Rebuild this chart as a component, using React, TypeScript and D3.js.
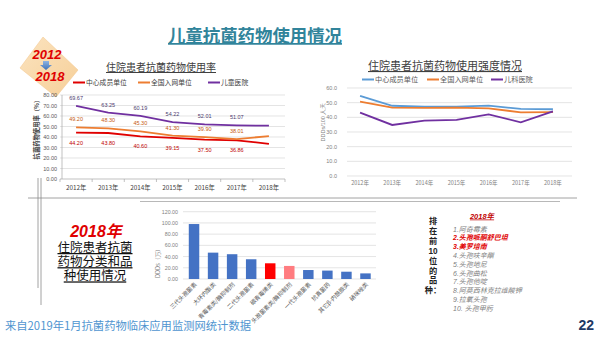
import React from "react";
import * as d3 from "d3";

const CJK = '"Noto Sans CJK SC", "Noto Sans", sans-serif';
const TIGHT = '"Liberation Sans", "Noto Sans CJK SC", sans-serif';
const LAT = '"Liberation Sans", Arial, sans-serif';

// Chart 1: 住院患者抗菌药物使用率
const years = ["2012年", "2013年", "2014年", "2015年", "2016年", "2017年", "2018年"];
const rateCenter = [44.2, 43.8, 40.6, 39.15, 37.5, 36.86, 33.5];
const rateNational = [49.2, 48.3, 45.3, 41.3, 39.9, 38.01, 40.8];
const rateChildren = [69.67, 63.25, 60.19, 54.22, 52.01, 51.07, 50.8];
const rateLabelled = [true, true, true, true, true, true, false];
const rateTicks = [0, 10, 20, 30, 40, 50, 60, 70, 80];
const rateSeriesNames = ["中心成员单位", "全国入网单位", "儿童医院"];

// Chart 2: 住院患者抗菌药物使用强度情况
const intensityCenter = [54.7, 47.9, 47.3, 47.3, 48.0, 45.7, 45.5];
const intensityNational = [50.7, 46.6, 46.5, 46.6, 46.1, 43.4, 43.5];
const intensityChildren = [43.2, 34.8, 37.7, 38.2, 42.0, 36.6, 44.1];
const intensityTicks = [0, 10, 20, 30, 40, 50, 60];
const intensitySeriesNames = ["中心成员单位", "全国入网单位", "儿科医院"];

// Chart 3: 2018 classes
const classes = [
  "三代头孢菌素",
  "大环内酯类",
  "青霉素类/酶抑制剂",
  "二代头孢菌素",
  "碳青霉烯类",
  "头孢菌素类/酶抑制剂",
  "一代头孢菌素",
  "抗真菌药",
  "其它β-内酰胺类",
  "硝咪唑类",
];
const classValues = [98, 47, 44.2, 35.2, 28, 23.3, 16, 15, 13, 10];
const classTicks = [0, 20, 40, 60, 80, 100, 120];

const topDrugs = [
  "1.阿奇霉素",
  "2.头孢哌酮舒巴坦",
  "3.美罗培南",
  "4.头孢呋辛酯",
  "5.头孢地尼",
  "6.头孢曲松",
  "7.头孢他啶",
  "8.阿莫西林克拉维酸钾",
  "9.拉氧头孢",
  "10. 头孢甲肟",
];
const topDrugsHighlighted = [false, true, true, false, false, false, false, false, false, false];
const verticalChars = ["排", "在", "前", "10", "位", "的", "品", "种："];
const leftBlockLines = ["住院患者抗菌", "药物分类和品", "种使用情况"];

export default function App() {
  // chart 1 scales
  const x1 = d3.scaleBand<string>().domain(years).range([60, 285]);
  const y1 = d3.scaleLinear().domain([0, 80]).range([179, 95]);
  const cx1 = (d: string) => (x1(d) as number) + x1.bandwidth() / 2;
  const line1 = (vals: number[]) =>
    d3.line<number>().x((_, i) => cx1(years[i])).y((v) => y1(v))(vals) as string;

  // chart 2 scales
  const x2 = d3.scaleBand<string>().domain(years).range([344, 569]);
  const y2 = d3.scaleLinear().domain([0, 60]).range([176, 88]);
  const cx2 = (d: string) => (x2(d) as number) + x2.bandwidth() / 2;
  const line2 = (vals: number[]) =>
    d3.line<number>().x((_, i) => cx2(years[i])).y((v) => y2(v))(vals) as string;

  // chart 3 scales
  const x3 = d3
    .scaleBand<string>()
    .domain(classes)
    .range([184.5, 375])
    .paddingInner(0.45)
    .paddingOuter(0.225);
  const y3 = d3.scaleLinear().domain([0, 120]).range([279, 211.7]);

  const c1Colors = ["#e00000", "#ed7d31", "#7030a0"];
  const c1LabelColors = ["#c00000", "#c55a11", "#4b3a6e"];
  const c2Colors = ["#5b9bd5", "#ed7d31", "#7030a0"];
  const barColors = classes.map((_, i) => (i === 4 ? "#ff0000" : i === 5 ? "#ff7c80" : "#4472c4"));

  const rateSeries = [rateCenter, rateNational, rateChildren];
  const intSeries = [intensityCenter, intensityNational, intensityChildren];

  const fmt2 = d3.format(".2f");
  const fmt1 = d3.format(".1f");

  return (
    <svg
      width={600}
      height={337}
      style={{ position: "absolute", left: 0, top: 0, background: "#fff" }}
    >
      <defs>
        <linearGradient id="diam" x1="0" y1="0" x2="1" y2="1">
          <stop offset="0" stopColor="#fbe3bf" />
          <stop offset="1" stopColor="#f6cf98" />
        </linearGradient>
        <linearGradient id="arr" x1="0" y1="0" x2="0" y2="1">
          <stop offset="0" stopColor="#8db3e2" />
          <stop offset="1" stopColor="#3e72b8" />
        </linearGradient>
      </defs>
      <rect x={0} y={0} width={600} height={337} fill="#fff" />

      {/* Main title */}
      <text
        x={255}
        y={42}
        textAnchor="middle"
        fontFamily={CJK}
        fontWeight={700}
        fontSize={17.4}
        fill="#31849b"
        textDecoration="underline"
      >
        儿童抗菌药物使用情况
      </text>

      {/* Diamond badge */}
      <polygon points="43,37 78,70 56,97 20,68" fill="url(#diam)" stroke="#f2c58a" strokeWidth={0.5} />
      <text x={47} y={59} textAnchor="middle" fontFamily={LAT} fontStyle="italic" fontWeight={700} fontSize={13} fill="#e00000">
        2012
      </text>
      <path d="M43,61 L49,61 L49,65 L52,65 L46,70 L40,65 L43,65 Z" fill="url(#arr)" />
      <text x={50} y={81} textAnchor="middle" fontFamily={LAT} fontStyle="italic" fontWeight={700} fontSize={13} fill="#e00000">
        2018
      </text>

      {/* Chart 1 */}
      <text x={161} y={71} textAnchor="middle" fontFamily={CJK} fontSize={10} fill="#404040" textDecoration="underline">
        住院患者抗菌药物使用率
      </text>
      {rateSeriesNames.map((n, i) => {
        const lx = [73, 138, 208][i];
        return (
          <g key={n}>
            <line x1={lx} x2={lx + 12} y1={82.5} y2={82.5} stroke={c1Colors[i]} strokeWidth={2} />
            <text x={lx + 13} y={85} fontFamily={CJK} fontSize={6.8} fill="#404040">
              {n}
            </text>
          </g>
        );
      })}
      {rateTicks.map((t) => (
        <g key={t}>
          <line x1={60} x2={285} y1={y1(t)} y2={y1(t)} stroke={t === 0 ? "#a6a6a6" : "#d9d9d9"} strokeWidth={0.7} />
          <text x={57} y={y1(t) + 2} textAnchor="end" fontFamily={LAT} fontSize={5.5} fill="#595959">
            {fmt2(t)}
          </text>
        </g>
      ))}
      <line x1={62} x2={62} y1={95} y2={179} stroke="#a6a6a6" strokeWidth={0.7} />
      {years.map((y, i) => (
        <g key={y}>
          <line x1={x1(y) as number} x2={x1(y) as number} y1={179} y2={182} stroke="#a6a6a6" strokeWidth={0.7} />
          {i === years.length - 1 && (
            <line x1={285} x2={285} y1={179} y2={182} stroke="#a6a6a6" strokeWidth={0.7} />
          )}
          <text x={cx1(y)} y={190} textAnchor="middle" fontFamily={CJK} fontSize={6.3} fill="#404040">
            {y}
          </text>
        </g>
      ))}
      <text
        transform={`translate(39,128) rotate(-90)`}
        textAnchor="middle"
        fontFamily={CJK}
        fontWeight={700}
        fontSize={6.3}
        fill="#404040"
      >
        抗菌药物使用率（%）
      </text>
      {rateSeries.map((s, si) => (
        <path key={si} d={line1(s)} fill="none" stroke={c1Colors[si]} strokeWidth={1.8} />
      ))}
      {rateSeries.map((s, si) =>
        s.map((v, i) =>
          rateLabelled[i] ? (
            <text
              key={`${si}-${i}`}
              x={cx1(years[i])}
              y={si === 0 ? y1(v) + 12 : y1(v) - 6}
              textAnchor="middle"
              fontFamily={LAT}
              fontSize={5.5}
              fill={c1LabelColors[si]}
            >
              {fmt2(v)}
            </text>
          ) : null
        )
      )}

      {/* Chart 2 */}
      <text x={445} y={70} textAnchor="middle" fontFamily={CJK} fontSize={11} fill="#404040" textDecoration="underline">
        住院患者抗菌药物使用强度情况
      </text>
      {intensitySeriesNames.map((n, i) => {
        const lx = [362, 427, 491][i];
        return (
          <g key={n}>
            <line x1={lx} x2={lx + 12} y1={79.5} y2={79.5} stroke={c2Colors[i]} strokeWidth={2} />
            <text x={lx + 13} y={82} fontFamily={CJK} fontSize={7.2} fill="#595959">
              {n}
            </text>
          </g>
        );
      })}
      {intensityTicks.map((t) => (
        <g key={t}>
          <line x1={347} x2={572} y1={y2(t)} y2={y2(t)} stroke="#d9d9d9" strokeWidth={0.7} />
          <text x={337} y={y2(t) + 2} textAnchor="end" fontFamily={LAT} fontSize={5.5} fill="#7f7f7f">
            {fmt1(t)}
          </text>
        </g>
      ))}
      {years.map((y) => (
        <text key={y} x={cx2(y)} y={185} textAnchor="middle" fontFamily={CJK} fontSize={5.5} fill="#7f7f7f">
          {y}
        </text>
      ))}
      <text
        transform={`translate(325,122) rotate(-90)`}
        textAnchor="middle"
        fontFamily={LAT}
        fontSize={5.5}
        fill="#7f7f7f"
      >
        DDDs/100 人天
      </text>
      {intSeries.map((s, si) => (
        <path key={si} d={line2(s)} fill="none" stroke={c2Colors[si]} strokeWidth={1.8} />
      ))}

      {/* Separators */}
      <line x1={28} x2={577} y1={198} y2={198} stroke="#8c8c8c" strokeWidth={0.8} />
      <line x1={140} x2={560} y1={201.5} y2={201.5} stroke="#a6a6a6" strokeWidth={0.8} />
      <line x1={38} x2={38} y1={178} y2={288} stroke="#8c8c8c" strokeWidth={0.8} />
      <line x1={41} x2={41} y1={178} y2={305} stroke="#8c8c8c" strokeWidth={0.8} />

      {/* Left text block */}
      <text x={96} y={236.5} textAnchor="middle" fontFamily={TIGHT} fontStyle="italic" fontWeight={700} fontSize={16} fill="#e00000">
        2018年
      </text>
      {leftBlockLines.map((t, i) => (
        <text
          key={t}
          x={95}
          y={252 + i * 14.2}
          textAnchor="middle"
          fontFamily={TIGHT}
          fontSize={12.5}
          fill="#111"
          textDecoration="underline"
        >
          {t}
        </text>
      ))}

      {/* Chart 3 */}
      {classTicks.map((t) => (
        <g key={t}>
          <line x1={183} x2={376} y1={y3(t)} y2={y3(t)} stroke="#d9d9d9" strokeWidth={0.7} />
          <text x={178} y={y3(t) + 2} textAnchor="end" fontFamily={LAT} fontSize={5.3} fill="#7f7f7f">
            {fmt2(t)}
          </text>
        </g>
      ))}
      <text
        transform={`translate(160,262) rotate(-90)`}
        textAnchor="middle"
        fontFamily={CJK}
        fontSize={5.8}
        fill="#7f7f7f"
      >
        DDDs（万）
      </text>
      {classes.map((c, i) => (
        <rect
          key={c}
          x={x3(c) as number}
          y={y3(classValues[i])}
          width={x3.bandwidth()}
          height={y3(0) - y3(classValues[i])}
          fill={barColors[i]}
        />
      ))}
      {classes.map((c) => {
        const cx = (x3(c) as number) + x3.bandwidth() / 2 + 3;
        return (
          <text
            key={c}
            transform={`translate(${cx},285) rotate(-45)`}
            textAnchor="end"
            fontFamily={CJK}
            fontSize={5.8}
            fill="#595959"
          >
            {c}
          </text>
        );
      })}

      {/* Right list */}
      {verticalChars.map((c, i) => (
        <text key={i} x={433} y={224 + i * 9.9} textAnchor="middle" fontFamily={TIGHT} fontWeight={700} fontSize={8.2} fill="#222">
          {c}
        </text>
      ))}
      <text
        x={482}
        y={218.5}
        textAnchor="middle"
        fontFamily={TIGHT}
        fontStyle="italic"
        fontWeight={700}
        fontSize={7.5}
        fill="#c00000"
        textDecoration="underline"
      >
        2018年
      </text>
      {topDrugs.map((d, i) => (
        <text
          key={d}
          x={453}
          y={231.5 + i * 8.8}
          fontFamily={TIGHT}
          fontStyle="italic"
          fontWeight={topDrugsHighlighted[i] ? 700 : 400}
          fontSize={7}
          fill={topDrugsHighlighted[i] ? "#e00000" : "#7f7f7f"}
        >
          {d}
        </text>
      ))}

      {/* Footer */}
      <text x={5} y={330} fontFamily={CJK} fontSize={11.3} fill="#4f95d0">
        来自2019年1月抗菌药物临床应用监测网统计数据
      </text>
      <text x={594} y={330} textAnchor="end" fontFamily={LAT} fontWeight={700} fontSize={14} fill="#1f3864">
        22
      </text>
    </svg>
  );
}
